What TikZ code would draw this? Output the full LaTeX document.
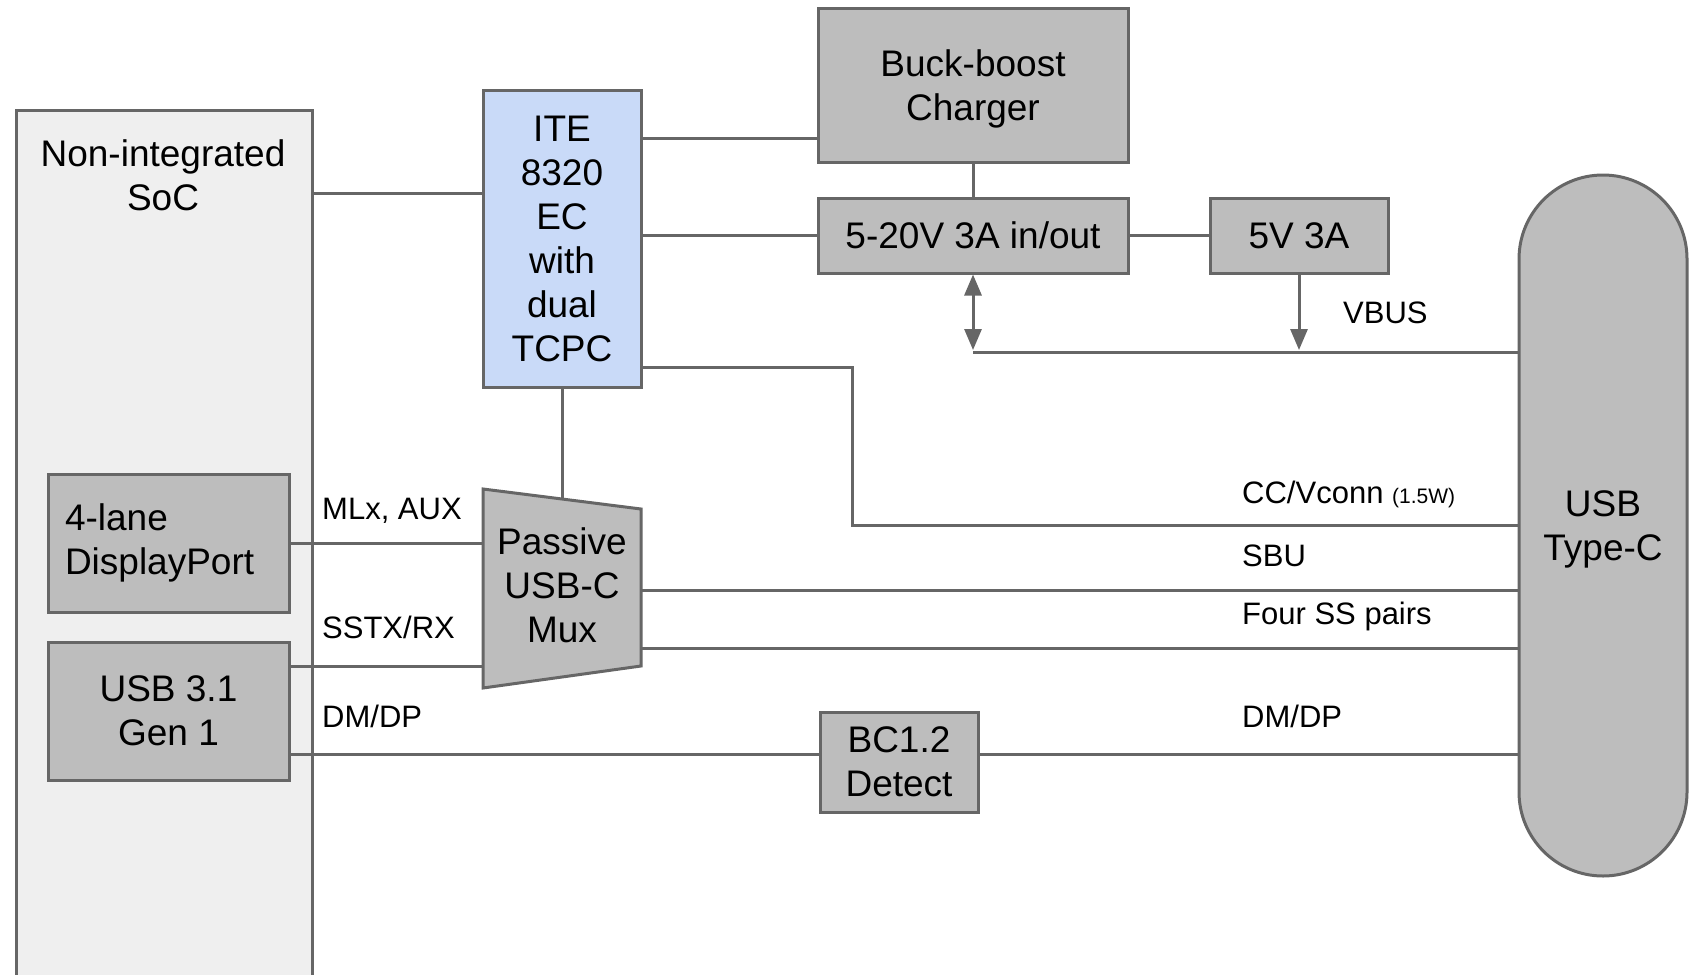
\documentclass[tikz,border=0pt]{standalone}
\usepackage{fontspec}
\setmainfont{Liberation Sans}
\usetikzlibrary{arrows.meta}
\definecolor{edge}{HTML}{666666}
\definecolor{boxgray}{HTML}{BDBDBD}
\definecolor{socgray}{HTML}{EFEFEF}
\definecolor{iteblue}{HTML}{C9DAF8}
\newcommand{\blkfont}{\fontsize{37}{44}\selectfont}
\newcommand{\lblfont}{\fontsize{31}{37}\selectfont}
\newcommand{\subfont}{\fontsize{21}{25}\selectfont}

\begin{document}
\begin{tikzpicture}[x=1pt, y=-1pt,
    blk/.style={draw=edge, fill=boxgray, line width=3pt, inner sep=0pt, align=center, font=\blkfont},
    wire/.style={draw=edge, line width=3pt},
    tip/.style={-{Triangle[length=21pt, width=17pt]}},
    lbl/.style={anchor=base west, inner sep=0pt, font=\lblfont}]
            \useasboundingbox (0,0) rectangle (1696,974);
            \node[blk, fill=socgray, minimum width=296pt, minimum height=880pt] (SoC) at (164,550) {};
            \node[font=\blkfont, align=center, inner sep=0pt] (SoC_t) at (163,175.5) {Non-integrated\\SoC};
            \node[blk, fill=iteblue, minimum width=158pt, minimum height=297pt] (ITE) at (562,238.5) {ITE\\8320\\EC\\with\\dual\\TCPC};
            \node[blk, text depth=0pt, minimum width=310pt, minimum height=153pt] (Chg) at (973,85.5) {Buck-boost\\Charger};
            \node[blk, minimum width=310pt, minimum height=75pt] (Pwr) at (973,235.5) {5-20V 3A in/out};
            \node[blk, minimum width=178pt, minimum height=75pt] (V5) at (1299,235.5) {5V 3A};
            \node[blk, text depth=0pt, rounded corners=84pt, minimum width=168pt, minimum height=701pt] (USBC) at (1603,525.5) {USB\\Type-C};
            \node[blk, minimum width=241pt, minimum height=138pt, text width=207pt, align=left] (DP) at (168.5,543) {4-lane\\DisplayPort};
            \node[blk, minimum width=241pt, minimum height=138pt] (U31) at (168.5,711) {USB 3.1\\Gen 1};
            \node[blk, minimum width=158pt, minimum height=100pt] (BC) at (899,762) {BC1.2\\Detect};
            \draw[wire, fill=boxgray] (483,489) coordinate (M_1) -- (641,509) coordinate (M_2)
                -- (641,666) coordinate (M_3) -- (483,688) coordinate (M_4) -- cycle;
            \node[font=\blkfont, align=center, inner sep=0pt] (Mux) at (562,585) {Passive\\USB-C\\Mux};
            \coordinate (y_s) at (0,193);
            \coordinate (y_c) at (0,138);
            \coordinate (y_cc) at (0,525);
            \coordinate (y_u) at (0,666);
            \coordinate (y_sbu) at (0,590);
            \coordinate (y_ss) at (0,648);
            \coordinate (y_dm) at (0,754);
            \coordinate (T) at (562,499);
            \coordinate (B) at (973,350);
            \coordinate (C) at (852,367);
            \draw[wire] (SoC.east |- y_s) -- (ITE.west |- y_s);
            \draw[wire] (ITE.east |- y_c) -- (Chg.west |- y_c);
            \draw[wire] (ITE.east |- Pwr.west) -- (Pwr.west);
            \draw[wire] (Chg.south) -- (Pwr.north);
            \draw[wire] (Pwr.east) -- (V5.west);
            \draw[wire] (ITE.south) -- (T);
            \draw[wire] ([yshift=-2pt]B) -- ([yshift=-2pt]B -| USBC.west);
            \draw[wire, tip] (V5.south) -- (V5.south |- B);
            \draw[wire, {Triangle[length=21pt, width=17pt]}-{Triangle[length=21pt, width=17pt]}] (Pwr.south) -- (B);
            \draw[wire] (ITE.east |- C) -- (C) |- (y_cc -| USBC.west);
            \draw[wire] (DP.east) -- (DP.east -| M_1);
            \draw[wire] (U31.east |- y_u) -- (y_u -| M_1);
            \draw[wire] (M_2 |- y_sbu) -- (y_sbu -| USBC.west);
            \draw[wire] (M_2 |- y_ss) -- (y_ss -| USBC.west);
            \draw[wire] (U31.east |- y_dm) -- (BC.west |- y_dm);
            \draw[wire] (BC.east |- y_dm) -- (y_dm -| USBC.west);
            \node[lbl] (L_ml) at (322,519) {MLx, AUX};
            \node[lbl] (L_ss) at (322,638) {SSTX/RX};
            \node[lbl] (L_dm) at (322,727) {DM/DP};
            \node[lbl] (L_cc) at (1242,503) {CC/Vconn {\subfont(1.5W)}};
            \node[lbl] (L_sbu) at (1242,566) {SBU};
            \node[lbl] (L_four) at (1242,624) {Four SS pairs};
            \node[lbl] (L_dm2) at (1242,727) {DM/DP};
            \node[lbl] (L_vbus) at (1343,323) {VBUS};
        \end{tikzpicture}
\end{document}
